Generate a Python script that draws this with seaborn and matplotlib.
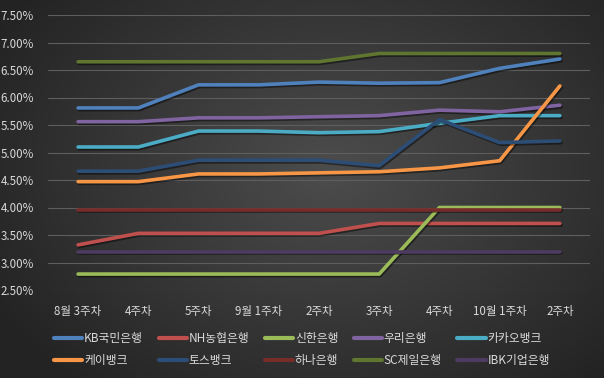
import numpy as np
import pandas as pd
import matplotlib
matplotlib.use("Agg")
import matplotlib.pyplot as plt
import matplotlib.patheffects as pe
import seaborn as sns

weeks = ["8월 3주차", "4주차", "5주차", "9월 1주차", "2주차", "3주차", "4주차", "10월 1주차", "2주차"]
banks = ["KB국민은행", "NH농협은행", "신한은행", "우리은행", "카카오뱅크",
         "케이뱅크", "토스뱅크", "하나은행", "SC제일은행", "IBK기업은행"]

kb = [5.81, 5.81, 6.23, 6.23, 6.28, 6.26, 6.27, 6.53, 6.70]
nh = [3.32, 3.53, 3.53, 3.53, 3.53, 3.71, 3.71, 3.71, 3.71]
shinhan = [2.79, 2.79, 2.79, 2.79, 2.79, 2.79, 4.00, 4.00, 4.00]
woori = [5.56, 5.56, 5.63, 5.63, 5.65, 5.67, 5.77, 5.74, 5.86]
kakao = [5.10, 5.10, 5.39, 5.39, 5.36, 5.38, 5.53, 5.67, 5.67]
kbank = [4.47, 4.47, 4.61, 4.61, 4.63, 4.65, 4.72, 4.85, 6.21]
toss = [4.66, 4.66, 4.86, 4.86, 4.86, 4.76, 5.60, 5.18, 5.21]
hana = [3.96, 3.96, 3.96, 3.96, 3.96, 3.96, 3.96, 3.96, 3.96]
sc = [6.65, 6.65, 6.65, 6.65, 6.65, 6.80, 6.80, 6.80, 6.80]
ibk = [3.20, 3.20, 3.20, 3.20, 3.20, 3.20, 3.20, 3.20, 3.20]

colors = ["#4F81BD", "#C0504D", "#9BBB59", "#8064A2", "#4BACC6",
          "#F79646", "#2C4D75", "#772C2A", "#5F7530", "#4D3B62"]

series = [kb, nh, shinhan, woori, kakao, kbank, toss, hana, sc, ibk]
rows = []
for name, vals in zip(banks, series):
    for i, v in enumerate(vals):
        rows.append({"bank": name, "idx": i, "rate": v})
df = pd.DataFrame(rows)

sns.set_theme(style="white")
plt.rcParams["font.family"] = ["Noto Sans CJK KR", "DejaVu Sans"]
text_col = "#D9D9D9"

fig = plt.figure(figsize=(6.04, 3.78), dpi=100)

# radial gradient background
bg = fig.add_axes([0, 0, 1, 1], zorder=-10)
yy, xx = np.mgrid[0:378, 0:604]
r = np.sqrt(((xx - 330) / 360.0) ** 2 + ((yy - 170) / 260.0) ** 2)
shade = np.clip(0.30 - 0.15 * r, 0.14, 0.30)
bg.imshow(np.dstack([shade] * 3), aspect="auto", extent=[0, 1, 0, 1])
bg.axis("off")

ax = fig.add_axes([48 / 604, 1 - 290 / 378, 542 / 604, 275 / 378])
ax.set_facecolor("none")

sns.lineplot(data=df, x="idx", y="rate", hue="bank", hue_order=banks,
             palette=colors, linewidth=2.6, ax=ax, legend=True)
for ln in ax.get_lines():
    ln.set_solid_capstyle("round")
    ln.set_path_effects([pe.SimpleLineShadow(offset=(0.8, -1.2), shadow_color="black", alpha=0.45),
                         pe.Normal()])

ax.set_xlim(-0.5, 8.5)
ax.set_ylim(2.5, 7.5)
ax.set_yticks(np.arange(2.5, 7.51, 0.5))
ax.set_yticklabels([f"{t:.2f}%" for t in np.arange(2.5, 7.51, 0.5)])
ax.set_xticks(range(len(weeks)))
ax.set_xticklabels(weeks)
ax.tick_params(axis="x", length=0, pad=11, labelsize=8.3, labelcolor=text_col)
ax.tick_params(axis="y", length=0, pad=10, labelsize=8.3, labelcolor=text_col)
ax.grid(axis="y", color="#5E5E5E", linewidth=0.8)
ax.set_axisbelow(True)
for s in ax.spines.values():
    s.set_visible(False)
ax.set_xlabel("")
ax.set_ylabel("")

handles, labels = ax.get_legend_handles_labels()
ax.legend_.remove()
hmap = dict(zip(labels, handles))
order = [0, 5, 1, 6, 2, 7, 3, 8, 4, 9]
leg = fig.legend([hmap[banks[i]] for i in order], [banks[i] for i in order],
                 ncol=5, loc="center", bbox_to_anchor=(0.5, 0.075), frameon=False,
                 fontsize=8.5, handlelength=2.4, handletextpad=0.15, columnspacing=1.3,
                 labelspacing=0.75)
for t in leg.get_texts():
    t.set_color(text_col)
for h in leg.legend_handles:
    h.set_linewidth(3)
    h.set_path_effects([])

fig.savefig("out.png", dpi=100)
